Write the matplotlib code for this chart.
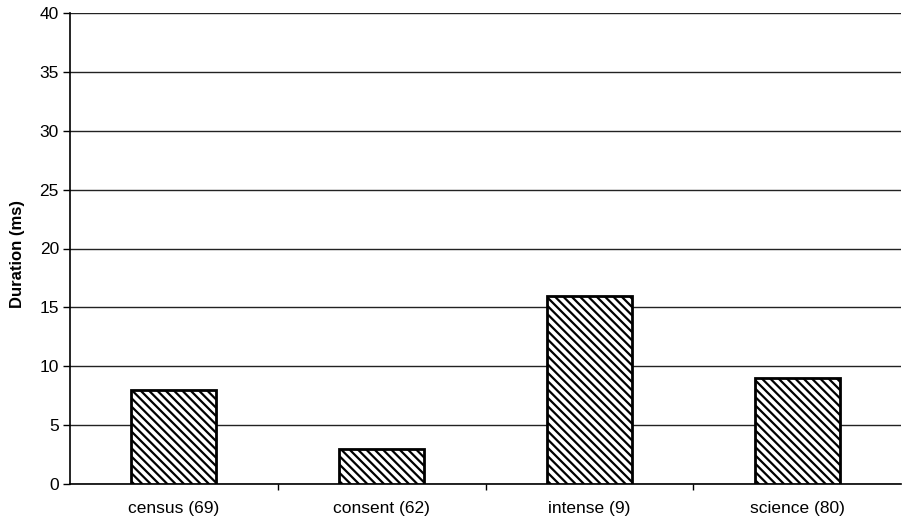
import matplotlib
matplotlib.use("Agg")
import matplotlib.pyplot as plt

categories = ["census (69)", "consent (62)", "intense (9)", "science (80)"]
durations = [8, 3, 16, 9]
yticks = [0, 5, 10, 15, 20, 25, 30, 35, 40]

plt.rcParams['font.family'] = ['Liberation Sans', 'DejaVu Sans']
plt.rcParams['hatch.linewidth'] = 1.6

fig = plt.figure(figsize=(9.02, 5.23), dpi=100)
ax = fig.add_axes([70/902, 39/523, 831/902, 471/523])

x = list(range(len(categories)))
ax.bar(x, durations, width=0.41, facecolor='white', edgecolor='black',
       linewidth=2, hatch='\\\\\\\\', zorder=3)

ax.set_xlim(-0.5, len(categories) - 0.5)
ax.set_ylim(0, 40)
ax.set_yticks(yticks)
ax.set_yticklabels([str(t) for t in yticks], fontsize=12.5)
ax.yaxis.grid(True, color='#222222', linewidth=1.0)
ax.set_axisbelow(True)

ax.set_xticks(x)
ax.set_xticklabels(categories, fontsize=12.5)
ax.tick_params(axis='x', length=0, pad=12)
ax.set_xticks([i + 0.5 for i in x[:-1]], minor=True)
ax.tick_params(axis='x', which='minor', length=4, width=1, direction='out')
ax.tick_params(axis='y', length=5, width=1, direction='out', pad=3)

for s in ['top', 'right']:
    ax.spines[s].set_visible(False)
ax.spines['left'].set_linewidth(1.2)
ax.spines['bottom'].set_linewidth(1.2)

ax.set_ylabel("Duration (ms)", fontsize=12, fontweight='bold')
ax.yaxis.set_label_coords(-45/831, 0.488)

fig.savefig("out.png", dpi=100)
